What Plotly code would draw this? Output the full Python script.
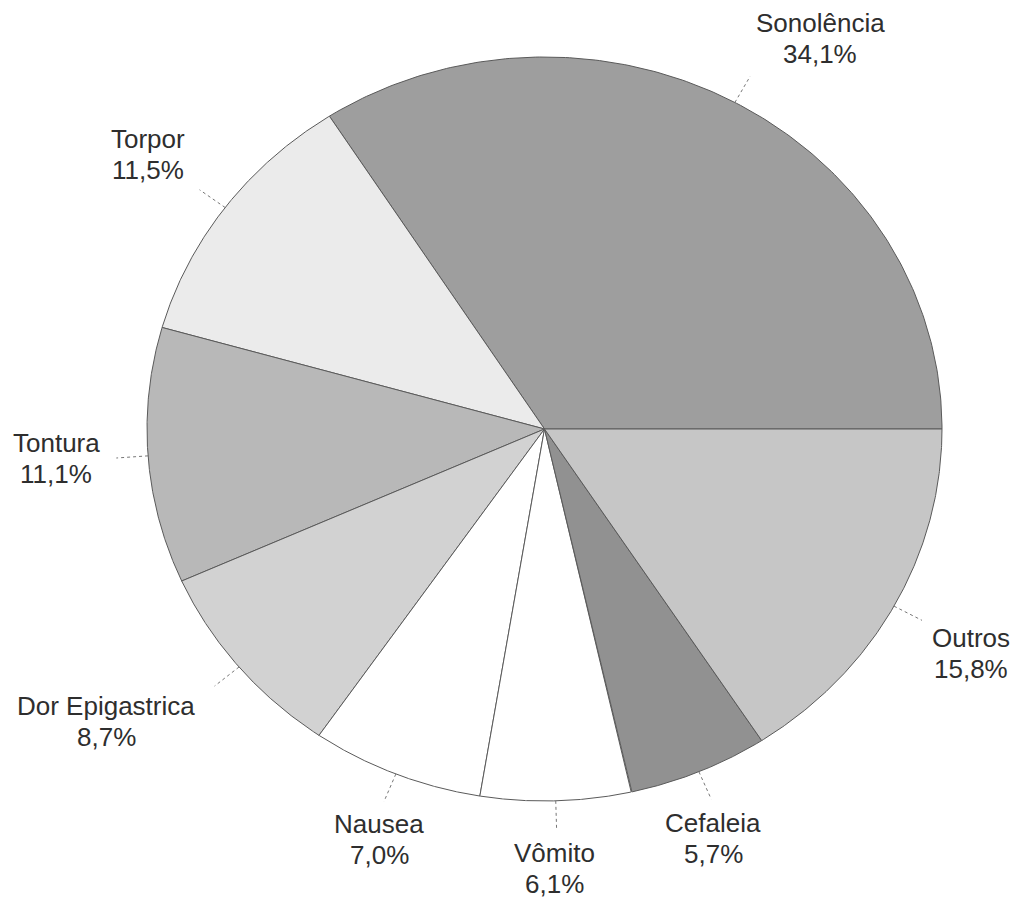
import numpy as np
import plotly.graph_objects as go

# Symptom shares (%), in counter-clockwise order starting at 3 o'clock
categories = ["Sonolência", "Torpor", "Tontura", "Dor Epigastrica",
              "Nausea", "Vômito", "Cefaleia", "Outros"]
values = [34.1, 11.5, 11.1, 8.7, 7.0, 6.1, 5.7, 15.8]

# Styling / layout
fills = ["#9e9e9e", "#ebebeb", "#b8b8b8", "#d2d2d2",
         "#ffffff", "#ffffff", "#919191", "#c6c6c6"]
label_pos = [(820, 38), (148, 154), (56, 458), (106, 721),
             (379, 839), (554, 868), (713, 838), (971, 653)]
W, H = 1016, 899
CX, CY, RX, RY = 544.5, 429, 397.5, 372
LEADER = 1.08
LINE_GAP = 31
FONT = dict(family="Liberation Sans, Arial", size=26, color="#2e2e2e")

fig = go.Figure()

total = sum(values)
start = 0.0
for name, v, col in zip(categories, values, fills):
    sweep = 2 * np.pi * v / total
    t = np.linspace(start, start + sweep, 200)
    xs = np.concatenate([[CX], CX + RX * np.cos(t), [CX]])
    ys = np.concatenate([[CY], CY - RY * np.sin(t), [CY]])
    fig.add_trace(go.Scatter(
        x=xs, y=ys, mode="lines", fill="toself", fillcolor=col,
        line=dict(color="#5a5a5a", width=1), hoverinfo="text",
        text=f"{name}: {v}%", showlegend=False))
    mid = start + sweep / 2
    # leader line from the rim outwards along the slice's mid angle
    fig.add_trace(go.Scatter(
        x=[CX + RX * np.cos(mid), CX + LEADER * RX * np.cos(mid)],
        y=[CY - RY * np.sin(mid), CY - LEADER * RY * np.sin(mid)],
        mode="lines", line=dict(color="#777777", width=1, dash="dot"),
        hoverinfo="skip", showlegend=False))
    start += sweep

for name, v, (lx, ly) in zip(categories, values, label_pos):
    pct = f"{v:.1f}%".replace(".", ",")
    for txt, yy in ((name, ly - LINE_GAP / 2), (pct, ly + LINE_GAP / 2)):
        fig.add_annotation(x=lx, y=yy, text=txt, showarrow=False,
                           xanchor="center", yanchor="middle", font=FONT)

fig.update_layout(
    width=W, height=H, margin=dict(l=0, r=0, t=0, b=0),
    paper_bgcolor="white", plot_bgcolor="white",
    xaxis=dict(range=[0, W], visible=False, fixedrange=True),
    yaxis=dict(range=[H, 0], visible=False, fixedrange=True),
)

fig.write_html("out.html")
